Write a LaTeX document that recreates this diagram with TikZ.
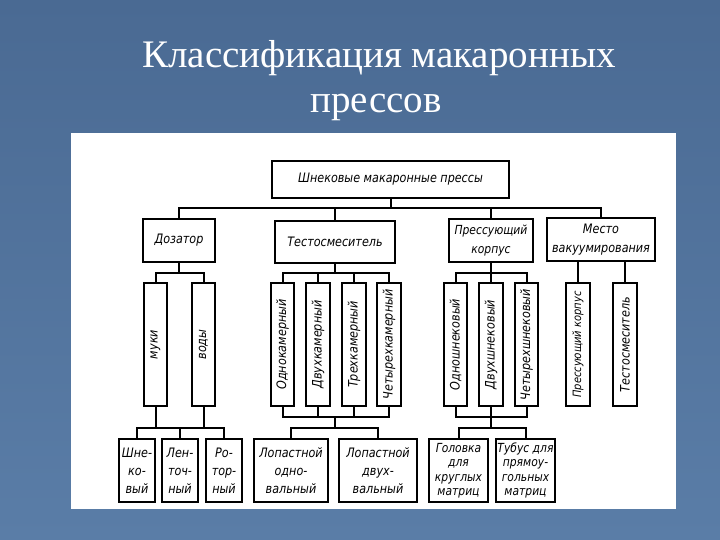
\documentclass[tikz,border=0pt]{standalone}
\usepackage{fontspec}
\setmainfont{Liberation Serif}
\newfontfamily\gost[FakeStretch=0.86]{DejaVu Sans}
\definecolor{bgtop}{HTML}{4A6A93}
\definecolor{bgbot}{HTML}{5A7DA7}
\begin{document}
\begin{tikzpicture}[x=1pt,y=-1pt,
  box/.style={draw=black,line width=2.3pt,fill=white,inner sep=0pt,align=center,
    font=\gost\itshape\fontsize{13}{15}\selectfont},
  vbox/.style={box,minimum width=23pt,minimum height=123pt},
  bbox/.style={box,minimum height=63pt},
  vtext/.style={rotate=90,inner sep=0pt,font=\gost\itshape\fontsize{13}{15}\selectfont},
  conn/.style={line width=2pt,line cap=rect},
  title/.style={text=white,anchor=base,inner sep=0pt,font=\fontsize{39}{47}\selectfont}]
\useasboundingbox (0,0) rectangle (720,540);
\shade[top color=bgtop,bottom color=bgbot] (0,0) rectangle (720,540);
% title
\node[title] (t1) at (379,68) {Классификация макаронных};
\node[title] (t2) at (376,113) {прессов};
% panel
\fill[white] (71,133) rectangle (676,509);
% level 1
\node[box,minimum width=237pt,minimum height=37pt] (top) at (390.5,179.5) {Шнековые макаронные прессы};
% level 2
\node[box,minimum width=72pt,minimum height=43pt] (doz) at (179,240.5) {Дозатор};
\node[box,minimum width=120pt,minimum height=42pt] (tes) at (335,242) {Тестосмеситель};
\node[box,minimum width=84pt,minimum height=43pt,font=\gost\itshape\fontsize{12.5}{19}\selectfont] (prk) at (491,240.5) {Прессующий\\корпус};
\node[box,minimum width=108pt,minimum height=43pt,font=\gost\itshape\fontsize{13}{19}\selectfont] (mes) at (601,239.5) {Место\\вакуумирования};
% level 3 (vertical boxes)
\node[vbox] (muk) at (155.5,344.5) {};
\node[vbox] (vod) at (203.5,344.5) {};
\node[vbox] (k1) at (282.5,344.5) {};
\node[vbox,minimum width=24pt] (k2) at (318,344.5) {};
\node[vbox,minimum width=24pt] (k3) at (354,344.5) {};
\node[vbox,minimum width=24pt] (k4) at (389,344.5) {};
\node[vbox] (sh1) at (455.5,344.5) {};
\node[vbox,minimum width=24pt] (sh2) at (491,344.5) {};
\node[vbox] (sh3) at (526.5,344.5) {};
\node[vbox,minimum width=24pt] (pk2) at (578,344.5) {};
\node[vbox,minimum width=24pt] (ts2) at (625,344.5) {};
\node[vtext] (lmuk) at (muk) {муки};
\node[vtext] (lvod) at (vod) {воды};
\node[vtext] (lk1) at (k1) {Однокамерный};
\node[vtext] (lk2) at (k2) {Двухкамерный};
\node[vtext] (lk3) at (k3) {Трехкамерный};
\node[vtext] (lk4) at (k4) {Четырехкамерный};
\node[vtext] (lsh1) at (sh1) {Одношнековый};
\node[vtext] (lsh2) at (sh2) {Двухшнековый};
\node[vtext] (lsh3) at (sh3) {Четырехшнековый};
\node[vtext,font=\gost\itshape\fontsize{11.5}{14}\selectfont] (lpk2) at (pk2) {Прессующий корпус};
\node[vtext] (lts2) at (ts2) {Тестосмеситель};
% level 4
\node[bbox,minimum width=36pt,font=\gost\itshape\fontsize{13}{18}\selectfont] (shn) at (137,470.5) {Шне-\\ко-\\вый};
\node[bbox,minimum width=36pt,font=\gost\itshape\fontsize{13}{18}\selectfont] (len) at (180,470.5) {Лен-\\точ-\\ный};
\node[bbox,minimum width=36pt,font=\gost\itshape\fontsize{13}{18}\selectfont] (rot) at (224,470.5) {Ро-\\тор-\\ный};
\node[bbox,minimum width=74pt,font=\gost\itshape\fontsize{13}{18}\selectfont] (lop1) at (291,470.5) {Лопастной\\одно-\\вальный};
\node[bbox,minimum width=78pt,font=\gost\itshape\fontsize{13}{18}\selectfont] (lop2) at (378,470.5) {Лопастной\\двух-\\вальный};
\node[bbox,minimum width=59pt,font=\gost\itshape\fontsize{12.5}{14.5}\selectfont] (gol) at (458.5,470.5) {Головка\\для\\круглых\\матриц};
\node[bbox,minimum width=59pt,font=\gost\itshape\fontsize{12.5}{14.5}\selectfont] (tub) at (525.5,470.5) {Тубус для\\прямоу-\\гольных\\матриц};
% bus levels
\coordinate (b1) at (0,208);
\coordinate (b2) at (0,273);
\coordinate (b3) at (0,417);
\coordinate (b4) at (0,428);
% connectors level 1-2
\draw[conn] (top.south) -- (top.south |- b1);
\draw[conn] (doz.north) -- (doz.north |- b1) -| (mes.north);
\draw[conn] (tes.north) -- (tes.north |- b1);
\draw[conn] (prk.north) -- (prk.north |- b1);
% level 2-3
\draw[conn] (doz.south) -- (doz.south |- b2);
\draw[conn] (muk.north) -- (muk.north |- b2) -| (vod.north);
\draw[conn] (tes.south) -- (tes.south |- b2);
\draw[conn] (k1.north) -- (k1.north |- b2) -| (k4.north);
\draw[conn] (k2.north) -- (k2.north |- b2);
\draw[conn] (k3.north) -- (k3.north |- b2);
\draw[conn] (prk.south) -- (prk.south |- b2);
\draw[conn] (sh1.north) -- (sh1.north |- b2) -| (sh3.north);
\draw[conn] (sh2.north) -- (sh2.north |- b2);
\draw[conn] (pk2.north) -- (pk2.north |- mes.south);
\draw[conn] (ts2.north) -- (ts2.north |- mes.south);
% level 3-4
\draw[conn] (muk.south) -- (muk.south |- b4);
\draw[conn] (vod.south) -- (vod.south |- b4);
\draw[conn] (shn.north) -- (shn.north |- b4) -| (rot.north);
\draw[conn] (len.north) -- (len.north |- b4);
\draw[conn] (k1.south) -- (k1.south |- b3) -| (k4.south);
\draw[conn] (k2.south) -- (k2.south |- b3);
\draw[conn] (k3.south) -- (k3.south |- b3);
\draw[conn] (tes.south |- b3) -- (tes.south |- b4);
\draw[conn] (lop1.north) -- (lop1.north |- b4) -| (lop2.north);
\draw[conn] (sh1.south) -- (sh1.south |- b3) -| (sh3.south);
\draw[conn] (sh2.south) -- (sh2.south |- b3);
\draw[conn] (sh2.south |- b3) -- (sh2.south |- b4);
\draw[conn] (gol.north) -- (gol.north |- b4) -| (tub.north);
\end{tikzpicture}
\end{document}
